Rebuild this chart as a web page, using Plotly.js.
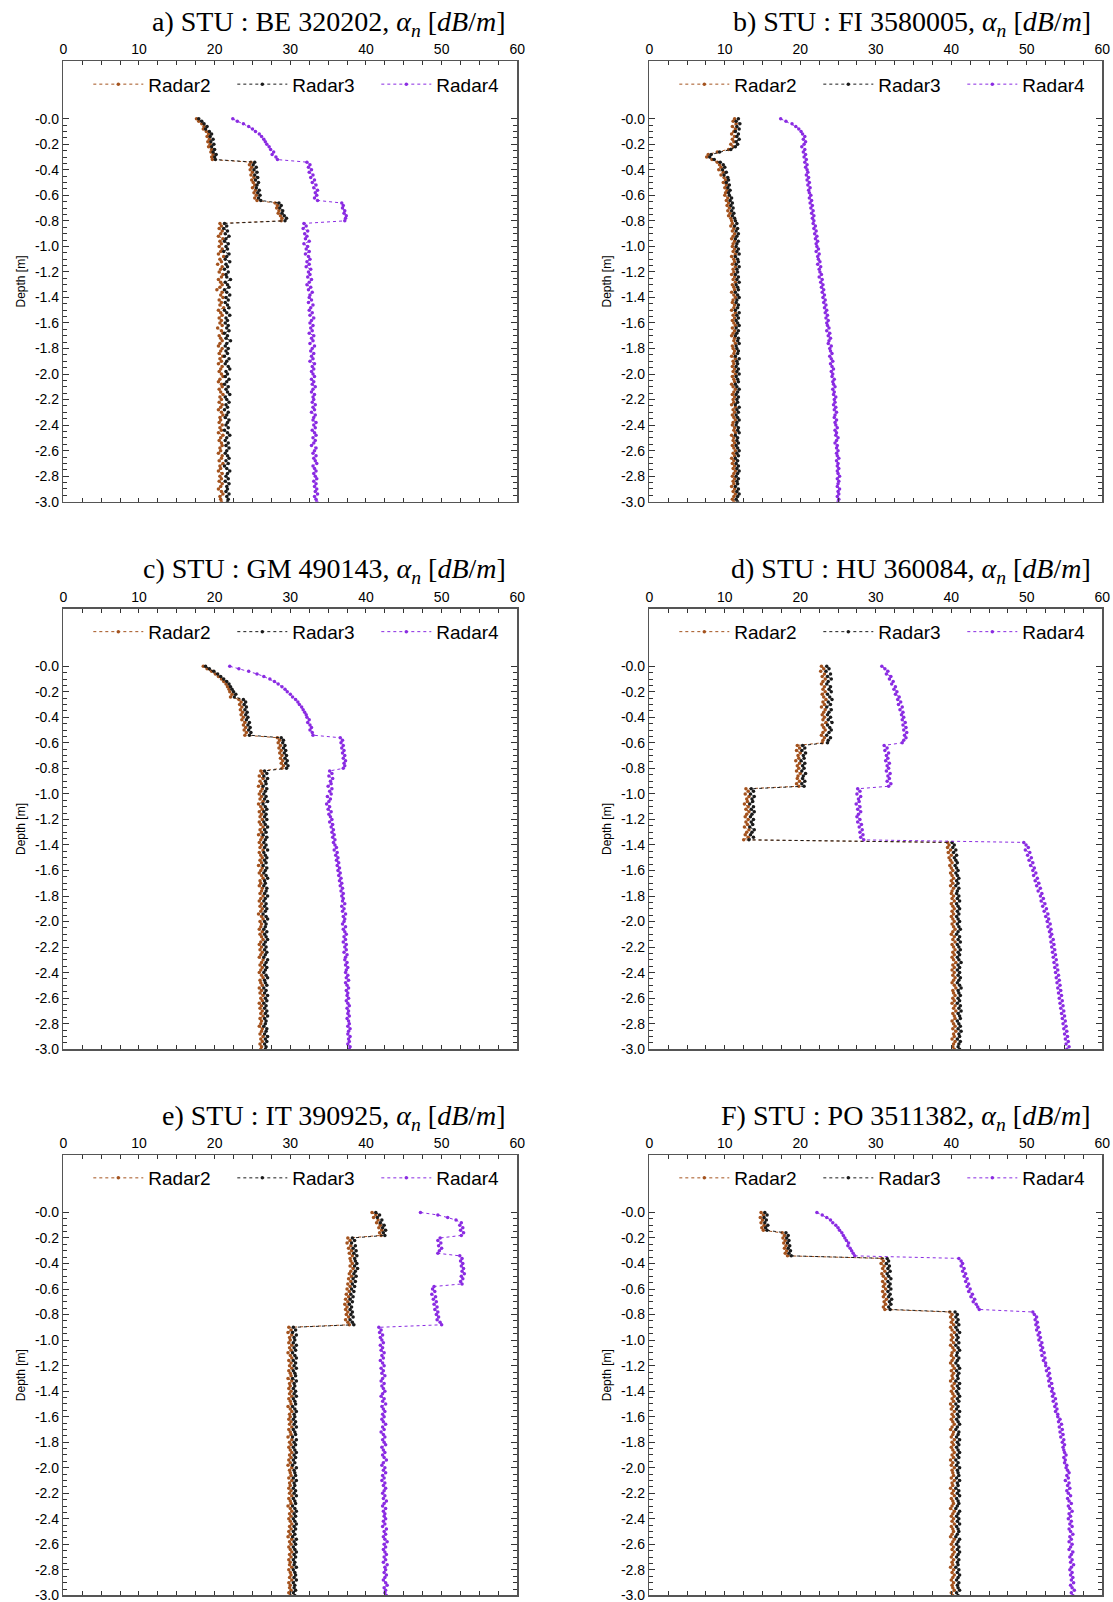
<!DOCTYPE html>
<html><head><meta charset="utf-8">
<script src="https://cdn.plot.ly/plotly-3.0.1.min.js"></script>
<style>html,body{margin:0;padding:0;background:#fff}#chart{width:1113px;height:1602px}</style>
</head><body><div id="chart"></div>
<script>
const depth = [
0,-0.02,-0.04,-0.06,-0.08,-0.1,-0.12,-0.14,-0.16,-0.18,
-0.2,-0.22,-0.24,-0.26,-0.28,-0.3,-0.32,-0.34,-0.36,-0.38,
-0.4,-0.42,-0.44,-0.46,-0.48,-0.5,-0.52,-0.54,-0.56,-0.58,
-0.6,-0.62,-0.64,-0.66,-0.68,-0.7,-0.72,-0.74,-0.76,-0.78,
-0.8,-0.82,-0.84,-0.86,-0.88,-0.9,-0.92,-0.94,-0.96,-0.98,
-1.0,-1.02,-1.04,-1.06,-1.08,-1.1,-1.12,-1.14,-1.16,-1.18,
-1.2,-1.22,-1.24,-1.26,-1.28,-1.3,-1.32,-1.34,-1.36,-1.38,
-1.4,-1.42,-1.44,-1.46,-1.48,-1.5,-1.52,-1.54,-1.56,-1.58,
-1.6,-1.62,-1.64,-1.66,-1.68,-1.7,-1.72,-1.74,-1.76,-1.78,
-1.8,-1.82,-1.84,-1.86,-1.88,-1.9,-1.92,-1.94,-1.96,-1.98,
-2.0,-2.02,-2.04,-2.06,-2.08,-2.1,-2.12,-2.14,-2.16,-2.18,
-2.2,-2.22,-2.24,-2.26,-2.28,-2.3,-2.32,-2.34,-2.36,-2.38,
-2.4,-2.42,-2.44,-2.46,-2.48,-2.5,-2.52,-2.54,-2.56,-2.58,
-2.6,-2.62,-2.64,-2.66,-2.68,-2.7,-2.72,-2.74,-2.76,-2.78,
-2.8,-2.82,-2.84,-2.86,-2.88,-2.9,-2.92,-2.94,-2.96,-2.98,
-3.0];

const panelLabels = ['a)','b)','c)','d)','e)','F)'];
const stuCodes = ['BE 320202','FI 3580005','GM 490143','HU 360084','IT 390925','PO 3511382'];
const seriesNames = ['Radar2','Radar3','Radar4'];
const xTickVals = [0,10,20,30,40,50,60];
const yTickVals = [0,-0.2,-0.4,-0.6,-0.8,-1.0,-1.2,-1.4,-1.6,-1.8,-2.0,-2.2,-2.4,-2.6,-2.8,-3.0];
const yTickText = ['-0.0','-0.2','-0.4','-0.6','-0.8','-1.0','-1.2','-1.4','-1.6','-1.8','-2.0','-2.2','-2.4','-2.6','-2.8','-3.0'];

// ---- panel a) BE 320202
const a_radar2 = [
17.6,17.9,18.3,18.6,18.5,18.9,19.2,19.0,19.3,19.1,
19.4,19.2,19.6,19.5,19.8,19.6,19.7,24.8,24.6,24.9,
24.7,25.0,24.8,25.2,24.9,25.1,25.3,25.0,25.4,25.2,
25.5,25.3,25.6,28.0,28.3,28.2,28.5,28.4,28.7,28.9,
28.8,20.7,20.9,20.6,21.0,20.8,20.5,21.1,20.7,20.9,
20.6,21.0,20.8,20.5,21.2,20.7,20.9,20.4,21.0,20.8,
20.6,21.1,20.9,20.5,20.8,21.0,20.7,20.3,21.0,20.8,
21.1,20.6,20.9,20.7,21.2,20.5,20.8,21.0,20.6,20.9,
20.7,21.0,20.4,20.9,21.1,20.6,20.8,21.0,20.7,20.5,
21.0,20.8,20.6,21.1,20.7,20.9,20.5,21.0,20.8,20.6,
20.9,21.1,20.7,20.5,20.9,21.0,20.6,20.8,21.1,20.7,
20.9,20.6,21.0,20.8,20.5,20.9,21.1,20.7,20.8,20.6,
21.0,20.7,20.9,20.5,21.1,20.8,20.6,20.9,21.0,20.7,
20.8,20.5,21.0,20.9,20.6,21.1,20.7,20.8,20.5,21.0,
20.7,20.9,20.6,21.0,20.8,20.5,20.9,21.1,20.7,20.8,20.9];
const a_radar3 = [
17.9,18.3,18.6,19.0,18.8,19.3,19.6,19.4,19.8,19.5,
19.9,19.6,20.0,19.8,20.2,20.0,20.1,25.3,25.1,25.5,
25.2,25.6,25.3,25.7,25.4,25.8,25.6,25.5,25.9,25.7,
26.0,25.8,26.1,28.5,28.8,28.6,29.0,28.9,29.2,29.5,
29.3,21.3,21.6,21.2,21.7,21.4,21.9,21.5,21.3,21.8,
21.5,21.7,21.2,21.9,21.6,21.4,22.0,21.5,21.7,21.3,
21.8,21.5,21.6,22.1,21.4,21.7,21.9,21.3,21.6,22.0,
21.5,21.8,21.4,21.7,21.9,21.3,21.6,22.0,21.5,21.7,
21.4,21.8,21.6,21.9,21.3,21.7,21.5,22.1,21.6,21.4,
21.8,21.5,21.7,21.3,21.9,21.6,21.4,21.8,22.0,21.5,
21.7,21.4,21.9,21.6,21.3,21.8,21.5,21.7,22.0,21.4,
21.6,21.9,21.5,21.7,21.3,21.8,21.6,21.4,21.9,21.7,
21.5,21.8,21.3,21.7,22.0,21.6,21.4,21.8,21.5,21.9,
21.6,21.4,21.7,21.9,21.5,21.8,21.3,21.6,22.0,21.7,
21.5,21.8,21.4,21.9,21.6,21.7,21.5,21.9,21.6,21.8,21.7];
const a_radar4 = [
22.4,23.0,23.8,24.5,25.0,25.4,25.9,26.2,26.5,26.7,
26.9,27.2,27.4,27.8,27.6,28.1,28.3,32.2,32.6,32.4,
32.8,32.5,33.0,32.7,33.2,32.9,33.4,33.1,33.6,33.3,
33.5,33.2,33.6,36.8,37.0,36.9,37.2,37.1,37.4,37.3,
37.2,31.8,32.1,31.7,32.3,31.9,32.2,32.0,32.5,31.8,
32.3,32.1,32.5,32.0,32.4,32.6,32.2,32.5,32.1,32.7,
32.4,32.6,32.3,32.8,32.5,32.2,32.7,32.4,32.9,32.6,
32.5,32.8,32.4,33.0,32.7,32.5,32.9,32.6,33.1,32.8,
32.6,33.0,32.7,32.9,32.5,33.1,32.8,33.0,32.6,33.2,
32.9,32.7,33.1,32.8,33.0,32.6,33.2,32.9,33.1,32.8,
33.0,33.2,32.8,33.1,32.9,33.3,33.0,32.8,33.2,33.0,
33.1,32.9,33.3,33.0,33.2,32.8,33.3,33.1,33.0,33.4,
33.1,33.3,32.9,33.2,33.4,33.0,33.3,33.1,32.8,33.4,
33.2,33.0,33.4,33.1,33.3,33.5,33.0,33.2,33.4,33.1,
33.3,33.5,33.1,33.4,33.2,33.5,33.3,33.6,33.2,33.4,33.5];

// ---- panel b) FI 3580005
const b_radar2 = [
11.3,11.1,11.5,11.0,11.4,11.2,10.9,11.3,11.0,11.2,
10.8,11.1,10.5,9.0,7.8,7.6,8.3,9.0,9.3,9.5,
9.2,9.8,9.5,9.9,10.1,9.8,10.2,10.0,10.3,10.1,
10.0,10.4,10.2,10.5,10.3,10.6,10.4,10.7,10.5,10.8,
10.9,11.0,10.8,11.2,11.0,11.3,11.1,10.9,11.3,11.1,
11.0,11.3,11.1,11.4,10.9,11.2,11.3,11.0,11.4,11.1,
11.2,10.9,11.3,11.1,11.4,11.0,11.2,11.3,10.9,11.2,
11.4,11.1,11.0,11.3,11.2,10.9,11.4,11.1,11.3,11.0,
11.2,11.4,11.0,11.3,11.1,10.9,11.3,11.2,11.4,11.0,
11.1,11.3,11.2,10.9,11.4,11.1,11.2,11.0,11.3,11.1,
11.4,11.0,11.2,11.3,10.9,11.1,11.4,11.2,11.0,11.3,
11.1,11.2,10.9,11.4,11.1,11.3,11.0,11.2,11.4,11.1,
11.0,11.3,11.2,11.4,10.9,11.2,11.1,11.3,11.0,11.2,
11.4,11.1,11.3,10.9,11.2,11.0,11.3,11.1,11.4,11.2,
11.0,11.3,11.1,11.2,10.9,11.3,11.1,11.4,11.2,11.0,11.2];
const b_radar3 = [
11.8,11.5,12.0,11.6,11.9,11.4,11.8,11.6,11.9,11.5,
11.7,11.4,10.8,9.3,8.2,8.0,8.6,9.4,9.8,10.0,
9.7,10.2,9.9,10.4,10.5,10.2,10.6,10.4,10.7,10.5,
10.6,10.9,10.7,11.0,10.8,11.1,10.9,11.2,11.0,11.3,
11.4,11.6,11.3,11.7,11.5,11.8,11.6,11.4,11.8,11.6,
11.5,11.8,11.6,11.9,11.4,11.7,11.8,11.5,11.9,11.6,
11.7,11.4,11.8,11.6,11.9,11.5,11.7,11.8,11.4,11.7,
11.9,11.6,11.5,11.8,11.7,11.4,11.9,11.6,11.8,11.5,
11.7,11.9,11.5,11.8,11.6,11.4,11.8,11.7,11.9,11.5,
11.6,11.8,11.7,11.4,11.9,11.6,11.7,11.5,11.8,11.6,
11.9,11.5,11.7,11.8,11.4,11.6,11.9,11.7,11.5,11.8,
11.6,11.7,11.4,11.9,11.6,11.8,11.5,11.7,11.9,11.6,
11.5,11.8,11.7,11.9,11.4,11.7,11.6,11.8,11.5,11.7,
11.9,11.6,11.8,11.4,11.7,11.5,11.8,11.6,11.9,11.7,
11.5,11.8,11.6,11.7,11.4,11.8,11.6,11.9,11.7,11.5,11.7];
const b_radar4 = [
17.4,18.1,18.9,19.4,19.8,20.1,20.3,20.6,20.4,20.7,
20.5,20.2,20.6,20.4,20.7,20.5,20.8,20.6,20.9,20.7,
20.9,21.0,20.8,21.1,20.9,21.2,21.0,21.3,21.1,21.2,
21.4,21.2,21.5,21.3,21.6,21.4,21.7,21.5,21.8,21.6,
21.8,21.7,22.0,21.8,22.1,21.9,22.2,22.0,22.3,22.1,
22.2,22.4,22.1,22.5,22.3,22.4,22.6,22.3,22.7,22.5,
22.6,22.8,22.5,22.9,22.7,23.0,22.8,23.1,22.9,23.2,
23.0,23.3,23.1,23.4,23.2,23.5,23.3,23.6,23.4,23.7,
23.5,23.6,23.8,23.5,23.9,23.7,24.0,23.8,23.7,24.1,
23.9,24.0,24.2,23.9,24.1,24.3,24.0,24.2,24.4,24.1,
24.3,24.2,24.5,24.3,24.4,24.6,24.3,24.5,24.4,24.7,
24.5,24.6,24.4,24.7,24.5,24.8,24.6,24.5,24.8,24.6,
24.7,24.9,24.6,24.8,24.7,25.0,24.8,24.6,24.9,24.8,
25.0,24.8,24.9,25.1,24.8,25.0,24.9,25.1,24.9,25.0,
25.2,24.9,25.1,25.0,24.9,25.2,25.0,25.1,24.9,25.1,25.0];

// ---- panel c) GM 490143
const c_radar2 = [
18.5,19.0,19.6,20.1,20.5,20.9,21.2,21.5,21.7,21.9,
22.0,22.3,22.1,23.2,23.5,23.3,23.6,23.4,23.7,23.5,
23.8,23.6,24.0,23.8,24.1,23.9,24.2,24.0,28.3,28.6,
28.4,28.7,28.5,28.8,28.6,28.9,28.7,29.0,28.8,29.1,
28.9,26.1,26.3,25.9,26.4,26.0,26.2,25.8,26.3,26.1,
25.9,26.2,26.0,26.4,25.8,26.1,26.3,25.9,26.2,26.0,
26.3,25.9,26.1,26.4,26.0,26.2,25.8,26.3,26.1,25.9,
26.2,26.0,26.4,25.9,26.1,26.3,26.0,26.2,25.8,26.3,
26.1,25.9,26.2,26.4,26.0,26.1,25.9,26.3,26.2,26.0,
26.4,26.1,25.9,26.2,26.0,26.3,26.1,25.8,26.2,26.4,
26.0,26.2,26.1,25.9,26.3,26.0,26.2,26.4,26.1,25.9,
26.2,26.0,26.3,26.1,25.9,26.4,26.2,26.0,26.3,26.1,
25.9,26.2,26.4,26.0,26.1,26.3,25.9,26.2,26.0,26.4,
26.1,26.3,25.9,26.2,26.0,26.3,26.1,26.4,26.0,26.2,
26.1,25.9,26.3,26.2,26.0,26.4,26.1,26.3,26.0,26.2,26.1];
const c_radar3 = [
18.8,19.3,19.9,20.4,20.8,21.2,21.6,21.9,22.1,22.3,
22.5,22.8,22.6,23.8,24.1,23.9,24.2,24.0,24.3,24.1,
24.4,24.2,24.6,24.4,24.7,24.5,24.8,24.6,28.8,29.1,
29.0,29.3,29.1,29.4,29.2,29.5,29.3,29.6,29.4,29.7,
29.5,26.6,26.9,26.5,27.0,26.7,26.8,26.4,26.9,26.7,
26.5,26.8,26.6,27.0,26.4,26.7,26.9,26.5,26.8,26.6,
26.9,26.5,26.7,27.0,26.6,26.8,26.4,26.9,26.7,26.5,
26.8,26.6,27.0,26.5,26.7,26.9,26.6,26.8,26.4,26.9,
26.7,26.5,26.8,27.0,26.6,26.7,26.5,26.9,26.8,26.6,
27.0,26.7,26.5,26.8,26.6,26.9,26.7,26.4,26.8,27.0,
26.6,26.8,26.7,26.5,26.9,26.6,26.8,27.0,26.7,26.5,
26.8,26.6,26.9,26.7,26.5,27.0,26.8,26.6,26.9,26.7,
26.5,26.8,27.0,26.6,26.7,26.9,26.5,26.8,26.6,27.0,
26.7,26.9,26.5,26.8,26.6,26.9,26.7,27.0,26.6,26.8,
26.7,26.5,26.9,26.8,26.6,27.0,26.7,26.9,26.6,26.8,26.7];
const c_radar4 = [
22.0,23.2,24.5,25.6,26.5,27.3,27.9,28.4,28.9,29.3,
29.6,30.0,30.3,30.7,31.0,31.2,31.5,31.7,31.9,32.1,
32.2,32.5,32.3,32.6,32.8,32.6,32.9,33.0,36.6,36.9,
36.7,37.0,36.8,37.1,36.9,37.2,37.0,37.3,37.1,37.2,
37.0,35.2,35.5,35.1,35.6,35.3,35.4,35.0,35.5,35.2,
35.4,34.9,35.3,35.1,34.8,35.2,35.0,35.4,35.1,35.3,
35.5,35.2,35.6,35.4,35.7,35.5,35.8,35.6,35.9,35.7,
35.9,36.1,35.8,36.2,36.0,36.3,36.1,36.4,36.2,36.5,
36.3,36.6,36.4,36.7,36.5,36.8,36.6,36.9,36.7,37.0,
36.8,37.0,36.9,37.2,36.8,37.1,36.9,37.3,37.0,37.2,
37.1,36.9,37.3,37.0,37.2,37.4,37.1,37.3,37.0,37.4,
37.2,37.4,37.1,37.5,37.3,37.2,37.5,37.3,37.6,37.4,
37.3,37.6,37.4,37.7,37.3,37.5,37.7,37.4,37.6,37.5,
37.7,37.4,37.6,37.8,37.5,37.7,37.6,37.8,37.5,37.7,
37.8,37.6,37.9,37.7,37.6,37.9,37.7,37.8,37.6,37.9,37.8];

// ---- panel d) HU 360084
const d_radar2 = [
22.8,23.1,22.7,23.2,22.9,23.3,23.0,22.8,23.2,23.0,
23.3,22.9,23.1,23.4,23.0,23.2,22.8,23.3,23.1,22.9,
23.2,23.0,23.4,22.9,23.1,23.3,23.0,22.8,23.2,23.0,
22.9,19.6,19.9,19.5,20.0,19.7,19.8,19.4,19.9,19.6,
19.8,19.5,20.0,19.7,19.6,19.9,19.5,19.8,12.8,13.1,
12.7,13.2,12.9,13.0,12.6,13.1,12.8,13.2,12.9,12.7,
13.1,12.8,13.0,12.6,13.2,12.9,12.7,13.1,12.5,39.5,
39.7,39.5,39.9,39.6,40.0,39.7,39.9,40.1,39.8,40.0,
40.2,39.9,40.1,40.3,40.0,40.2,39.9,40.3,40.1,40.0,
40.3,40.1,40.4,40.0,40.2,40.4,40.1,40.3,40.0,40.2,
40.4,40.1,40.3,40.5,40.2,40.0,40.4,40.2,40.5,40.1,
40.3,40.5,40.2,40.4,40.1,40.3,40.6,40.2,40.4,40.1,
40.4,40.2,40.5,40.3,40.1,40.4,40.6,40.2,40.3,40.5,
40.2,40.4,40.1,40.5,40.3,40.6,40.2,40.4,40.5,40.1,
40.3,40.5,40.2,40.6,40.3,40.4,40.1,40.5,40.3,40.2,40.4];
const d_radar3 = [
23.5,23.8,23.4,24.0,23.6,24.1,23.7,23.5,24.0,23.8,
24.1,23.6,23.9,24.2,23.7,24.0,23.5,24.1,23.8,23.6,
24.0,23.7,24.2,23.6,23.9,24.1,23.8,23.5,24.0,23.7,
23.6,20.3,20.6,20.2,20.7,20.4,20.5,20.1,20.6,20.3,
20.5,20.2,20.7,20.4,20.3,20.6,20.2,20.5,13.5,13.8,
13.4,13.9,13.6,13.7,13.3,13.8,13.5,13.9,13.6,13.4,
13.8,13.5,13.7,13.3,13.9,13.6,13.4,13.8,13.2,40.1,
40.4,40.2,40.6,40.3,40.7,40.4,40.6,40.8,40.5,40.7,
40.9,40.6,40.8,41.0,40.7,40.9,40.6,41.0,40.8,40.7,
41.0,40.8,41.1,40.7,40.9,41.1,40.8,41.0,40.7,40.9,
41.1,40.8,41.0,41.2,40.9,40.7,41.1,40.9,41.2,40.8,
41.0,41.2,40.9,41.1,40.8,41.0,41.3,40.9,41.1,40.8,
41.1,40.9,41.2,41.0,40.8,41.1,41.3,40.9,41.0,41.2,
40.9,41.1,40.8,41.2,41.0,41.3,40.9,41.1,41.2,40.8,
41.0,41.2,40.9,41.3,41.0,41.1,40.8,41.2,41.0,40.9,41.1];
const d_radar4 = [
30.8,31.2,31.6,31.4,32.0,31.8,32.3,32.1,32.6,32.4,
32.8,32.6,33.1,32.9,33.3,33.0,33.5,33.2,33.6,33.4,
33.7,33.5,33.9,33.6,34.0,33.7,34.1,33.8,34.0,33.7,
33.5,31.1,31.5,31.2,31.7,31.4,31.6,31.3,31.8,31.5,
31.7,31.4,31.9,31.6,31.8,31.5,32.0,31.7,27.6,27.9,
27.5,28.0,27.7,27.8,27.4,27.9,27.6,28.0,27.7,27.5,
27.9,27.6,28.1,27.8,28.2,27.9,28.3,28.0,28.4,49.6,
49.9,50.2,49.8,50.4,50.1,50.6,50.3,50.8,50.5,51.0,
50.8,51.2,50.9,51.4,51.1,51.6,51.3,51.8,51.5,52.0,
51.8,52.2,51.9,52.4,52.1,52.6,52.3,52.8,52.5,52.9,
52.7,53.1,52.8,53.2,53.0,53.3,53.1,53.5,53.2,53.6,
53.3,53.7,53.4,53.8,53.5,53.9,53.6,54.0,53.7,54.1,
53.8,54.2,53.9,54.3,54.0,54.4,54.1,54.5,54.2,54.6,
54.3,54.7,54.4,54.8,54.5,54.9,54.6,55.0,54.7,55.1,
54.8,55.2,54.9,55.3,55.0,55.4,55.1,55.5,55.2,55.6,55.3];

// ---- panel e) IT 390925
const e_radar2 = [
40.8,41.3,41.0,41.6,41.4,41.9,41.7,42.1,41.8,42.0,
37.6,37.9,37.5,38.0,37.7,38.1,37.8,38.2,37.9,38.0,
38.2,37.9,38.3,38.0,37.8,38.1,37.7,38.0,37.6,37.9,
37.5,37.8,37.4,37.7,37.3,37.6,37.2,37.5,37.3,37.6,
37.4,37.7,37.3,37.6,37.8,29.8,30.1,29.7,30.2,29.9,
30.0,29.8,30.2,29.9,30.1,29.7,30.0,30.2,29.8,30.1,
29.9,30.2,29.8,30.0,30.1,29.7,30.2,29.9,30.0,29.8,
30.1,29.9,30.2,29.8,30.0,30.1,29.7,30.0,30.2,29.9,
30.0,29.8,30.1,29.9,30.2,29.8,30.0,30.1,29.7,30.2,
29.9,30.1,29.8,30.0,30.2,29.9,30.1,29.8,30.0,29.7,
30.2,29.9,30.0,30.1,29.8,30.2,29.9,30.0,29.8,30.1,
29.9,30.2,29.8,30.0,30.1,29.7,30.0,30.2,29.9,30.1,
29.8,30.0,30.2,29.9,30.1,29.8,30.0,29.7,30.2,29.9,
30.1,29.8,30.0,30.2,29.9,30.1,29.8,30.0,29.9,30.2,
29.8,30.0,30.1,29.9,30.2,29.8,30.0,29.9,30.1,29.8,30.0];
const e_radar3 = [
41.3,41.8,41.5,42.1,41.9,42.4,42.2,42.6,42.3,42.5,
38.2,38.5,38.1,38.6,38.3,38.7,38.4,38.8,38.5,38.6,
38.8,38.5,38.9,38.6,38.4,38.7,38.3,38.6,38.2,38.5,
38.1,38.4,38.0,38.3,37.9,38.2,37.8,38.1,37.9,38.2,
38.0,38.3,37.9,38.2,38.4,30.4,30.7,30.3,30.8,30.5,
30.6,30.4,30.8,30.5,30.7,30.3,30.6,30.8,30.4,30.7,
30.5,30.8,30.4,30.6,30.7,30.3,30.8,30.5,30.6,30.4,
30.7,30.5,30.8,30.4,30.6,30.7,30.3,30.6,30.8,30.5,
30.6,30.4,30.7,30.5,30.8,30.4,30.6,30.7,30.3,30.8,
30.5,30.7,30.4,30.6,30.8,30.5,30.7,30.4,30.6,30.3,
30.8,30.5,30.6,30.7,30.4,30.8,30.5,30.6,30.4,30.7,
30.5,30.8,30.4,30.6,30.7,30.3,30.6,30.8,30.5,30.7,
30.4,30.6,30.8,30.5,30.7,30.4,30.6,30.3,30.8,30.5,
30.7,30.4,30.6,30.8,30.5,30.7,30.4,30.6,30.5,30.8,
30.4,30.6,30.7,30.5,30.8,30.4,30.6,30.5,30.7,30.4,30.6];
const e_radar4 = [
47.2,49.5,50.8,51.9,52.6,52.4,52.8,52.5,52.9,52.6,
49.8,49.5,49.9,49.6,50.0,49.7,49.5,52.4,52.7,52.5,
52.8,52.6,52.9,52.7,53.0,52.6,52.8,52.5,52.7,49.0,
48.8,49.1,48.7,49.2,48.9,49.3,49.0,49.4,49.1,49.5,
49.3,49.6,49.4,49.8,50.0,41.7,42.0,41.8,42.2,41.9,
42.1,42.3,41.9,42.2,42.0,42.4,42.1,42.3,41.9,42.2,
42.4,42.0,42.3,42.1,42.5,42.2,42.0,42.4,42.1,42.3,
42.5,42.2,42.0,42.4,42.2,42.6,42.1,42.3,42.5,42.2,
42.4,42.1,42.3,42.6,42.2,42.4,42.0,42.3,42.5,42.2,
42.4,42.6,42.1,42.3,42.5,42.2,42.4,42.7,42.3,42.1,
42.5,42.3,42.6,42.2,42.4,42.1,42.5,42.3,42.6,42.4,
42.2,42.5,42.3,42.7,42.4,42.2,42.6,42.3,42.5,42.4,
42.6,42.3,42.5,42.2,42.7,42.4,42.6,42.3,42.5,42.8,
42.4,42.6,42.3,42.5,42.7,42.4,42.6,42.3,42.8,42.5,
42.6,42.4,42.7,42.5,42.3,42.6,42.8,42.4,42.6,42.5,42.7];

// ---- panel F) PO 3511382
const f_radar2 = [
14.8,15.1,14.7,15.0,14.8,15.2,14.9,15.1,17.6,17.9,
17.7,18.0,17.8,18.1,17.9,18.2,18.0,18.3,30.8,31.0,
30.7,31.1,30.9,31.2,30.8,31.0,31.3,30.9,31.2,31.0,
31.3,30.9,31.2,31.0,31.4,31.1,31.3,31.0,31.2,39.8,
40.1,39.9,40.2,40.0,40.3,39.9,40.1,40.4,40.0,40.2,
40.0,40.3,39.9,40.2,40.4,40.1,40.0,40.3,40.1,39.9,
40.2,40.4,40.0,40.3,40.1,40.2,39.9,40.4,40.1,40.3,
40.0,40.2,40.4,40.1,40.3,39.9,40.2,40.0,40.4,40.1,
40.3,40.0,40.2,40.4,40.1,39.9,40.3,40.2,40.0,40.4,
40.1,40.3,40.0,40.2,40.4,40.1,40.3,39.9,40.2,40.0,
40.4,40.1,40.2,40.3,40.0,40.4,40.1,40.2,39.9,40.3,
40.1,40.4,40.0,40.2,40.3,40.1,39.9,40.4,40.2,40.0,
40.3,40.1,40.4,40.0,40.2,40.3,40.1,39.9,40.4,40.2,
40.0,40.3,40.1,40.4,40.2,40.0,40.3,40.1,40.2,39.9,
40.3,40.1,40.4,40.2,40.0,40.3,40.1,40.2,40.4,40.0,40.2];
const f_radar3 = [
15.3,15.6,15.2,15.5,15.3,15.7,15.4,15.6,18.1,18.4,
18.2,18.5,18.3,18.6,18.4,18.7,18.5,18.8,31.5,31.7,
31.4,31.8,31.6,31.9,31.5,31.7,32.0,31.6,31.9,31.7,
32.0,31.6,31.9,31.7,32.1,31.8,32.0,31.7,31.9,40.5,
40.8,40.6,40.9,40.7,41.0,40.6,40.8,41.1,40.7,40.9,
40.7,41.0,40.6,40.9,41.1,40.8,40.7,41.0,40.8,40.6,
40.9,41.1,40.7,41.0,40.8,40.9,40.6,41.1,40.8,41.0,
40.7,40.9,41.1,40.8,41.0,40.6,40.9,40.7,41.1,40.8,
41.0,40.7,40.9,41.1,40.8,40.6,41.0,40.9,40.7,41.1,
40.8,41.0,40.7,40.9,41.1,40.8,41.0,40.6,40.9,40.7,
41.1,40.8,40.9,41.0,40.7,41.1,40.8,40.9,40.6,41.0,
40.8,41.1,40.7,40.9,41.0,40.8,40.6,41.1,40.9,40.7,
41.0,40.8,41.1,40.7,40.9,41.0,40.8,40.6,41.1,40.9,
40.7,41.0,40.8,41.1,40.9,40.7,41.0,40.8,40.9,40.6,
41.0,40.8,41.1,40.9,40.7,41.0,40.8,40.9,41.1,40.7,40.9];
const f_radar4 = [
22.2,22.9,23.5,24.0,24.3,24.7,25.0,25.2,25.5,25.7,
25.9,26.1,26.4,26.3,26.6,26.8,27.0,27.2,41.0,41.3,
41.5,41.3,41.7,41.5,41.9,41.7,42.1,41.9,42.3,42.1,
42.5,42.3,42.8,42.6,43.1,42.9,43.3,43.5,43.7,50.8,
51.0,51.3,51.1,51.4,51.2,51.5,51.3,51.7,51.5,51.8,
51.6,52.0,51.8,52.1,51.9,52.3,52.0,52.4,52.2,52.5,
52.5,52.9,52.6,53.0,52.8,53.1,52.9,53.3,53.0,53.4,
53.3,53.6,53.4,53.8,53.5,53.9,53.7,54.0,53.8,54.1,
54.1,54.4,54.2,54.6,54.3,54.7,54.4,54.8,54.5,54.9,
54.7,55.0,54.8,54.9,55.0,55.2,54.9,55.1,55.0,55.3,
55.2,55.4,55.6,55.3,55.5,55.1,55.6,55.4,55.7,55.3,
55.5,55.8,55.4,55.6,55.9,55.5,55.7,56.0,55.6,55.8,
55.5,55.9,55.7,56.0,55.6,55.8,56.1,55.7,55.9,55.6,
56.0,55.8,55.6,56.1,55.9,55.7,56.0,55.8,56.2,55.9,
55.7,56.0,55.8,56.1,55.9,56.2,55.8,56.0,56.3,55.9,56.1];

const panelSeries = [
  [a_radar2, a_radar3, a_radar4],
  [b_radar2, b_radar3, b_radar4],
  [c_radar2, c_radar3, c_radar4],
  [d_radar2, d_radar3, d_radar4],
  [e_radar2, e_radar3, e_radar4],
  [f_radar2, f_radar3, f_radar4]
];

// ---------- styling / layout ----------
const W = 1113, H = 1602;
const colors = ['#A4531E', '#1b1b1b', '#8A2BE2'];
const colPx = [[63.3, 517.3], [649.3, 1102.3]];
const rowPx = [[61.3, 501.7], [608.8, 1049.2], [1155.0, 1595.4]];
const sansFont = 'Liberation Sans, Arial, sans-serif';
const serifFont = 'Liberation Serif, Times New Roman, serif';

const yMinor = [];
for (let k = 0; k <= 60; k++) { if (k % 4 !== 0) yMinor.push(-k * 0.05); }

const traces = [];
const layout = {
  width: W, height: H,
  margin: {l: 0, r: 0, t: 0, b: 0},
  paper_bgcolor: '#fff', plot_bgcolor: '#fff',
  showlegend: true,
  annotations: []
};

for (let p = 0; p < 6; p++) {
  const col = p % 2, row = Math.floor(p / 2);
  const sfx = p === 0 ? '' : String(p + 1);
  const xName = 'xaxis' + sfx, yName = 'yaxis' + sfx;
  const legName = 'legend' + sfx;
  const [xl, xr] = colPx[col];
  const [yt, yb] = rowPx[row];

  layout[xName] = {
    domain: [xl / W, xr / W], anchor: 'y' + sfx, side: 'top',
    range: [0, 60], tickmode: 'array', tickvals: xTickVals,
    ticks: 'inside', ticklen: 4, tickwidth: 1, tickcolor: '#333',
    showline: true, linecolor: '#555', linewidth: 1.5, mirror: 'allticks',
    minor: {tickmode: 'linear', tick0: 0, dtick: 2.5, ticks: 'inside', ticklen: 4, tickwidth: 1, tickcolor: '#333'},
    showgrid: false, zeroline: false, ticklabeloverflow: 'allow',
    tickfont: {family: sansFont, size: 14, color: '#000'}
  };
  layout[yName] = {
    domain: [1 - yb / H, 1 - yt / H], anchor: 'x' + sfx,
    range: [-3, 0.45], tickmode: 'array', tickvals: yTickVals, ticktext: yTickText,
    ticks: 'inside', ticklen: 6, tickwidth: 1, tickcolor: '#333',
    showline: true, linecolor: '#555', linewidth: 1.5, mirror: 'allticks',
    minor: {tickmode: 'array', tickvals: yMinor, ticks: 'inside', ticklen: 4, tickwidth: 1, tickcolor: '#333'},
    showgrid: false, zeroline: false, ticklabeloverflow: 'allow',
    tickfont: {family: sansFont, size: 14, color: '#000'},
    title: {text: 'Depth [m]', font: {family: sansFont, size: 12, color: '#000'}, standoff: 6}
  };
  layout[legName] = {
    orientation: 'h', xref: 'paper', yref: 'paper',
    x: (xl + 25) / W, y: 1 - (yt + 23) / H, xanchor: 'left', yanchor: 'middle',
    font: {family: sansFont, size: 19, color: '#000'},
    bgcolor: 'rgba(0,0,0,0)', borderwidth: 0,
    entrywidth: 79, entrywidthmode: 'pixels', itemwidth: 50
  };
  layout.annotations.push({
    xref: 'paper', yref: 'paper', x: (xr - 9) / W, y: 1 - (yt - 38) / H,
    xanchor: 'right', yanchor: 'middle', showarrow: false,
    text: panelLabels[p] + ' STU : ' + stuCodes[p] + ', <i>α<sub>n</sub></i> [<i>dB</i>/<i>m</i>]',
    font: {family: serifFont, size: 28, color: '#000'}
  });

  for (let s = 0; s < 3; s++) {
    traces.push({
      type: 'scatter', mode: 'lines+markers',
      x: panelSeries[p][s], y: depth,
      xaxis: 'x' + sfx, yaxis: 'y' + sfx, legend: legName,
      name: seriesNames[s],
      line: {color: colors[s], width: 1, dash: 'dot'},
      marker: {color: colors[s], size: 3.5}
    });
  }
}

Plotly.newPlot('chart', traces, layout, {staticPlot: true, displayModeBar: false});
</script>
</body></html>
